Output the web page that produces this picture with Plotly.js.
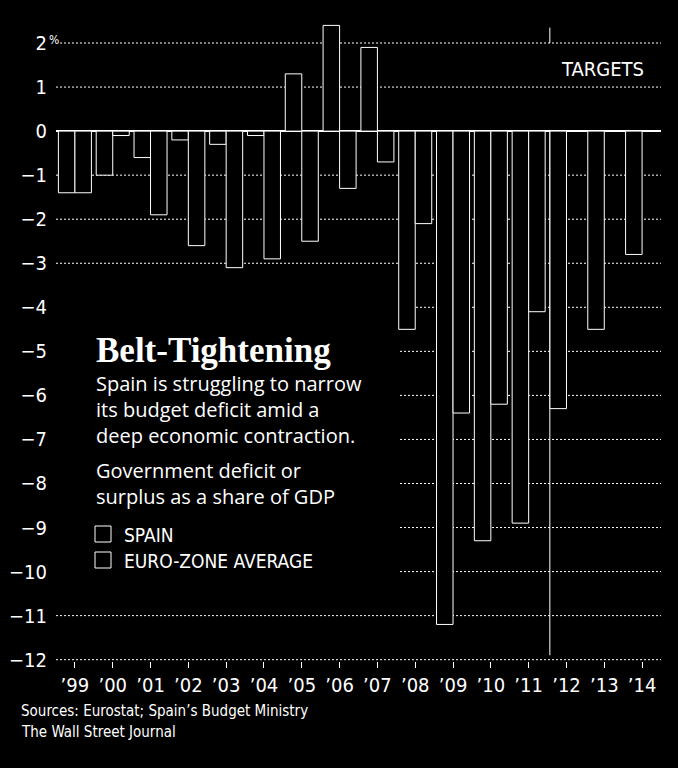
<!DOCTYPE html>
<html>
<head>
<meta charset="utf-8">
<script src="https://cdn.plot.ly/plotly-3.0.1.min.js"></script>
<style>
  html, body { margin: 0; padding: 0; background: #000; }
  #chart { width: 678px; height: 768px; }
</style>
</head>
<body>
<div id="chart"></div>
<script>
// ---- data ----
var years = [1999, 2000, 2001, 2002, 2003, 2004, 2005, 2006, 2007, 2008, 2009, 2010, 2011, 2012, 2013, 2014];
var yearLabels = ['\u201999', '\u201900', '\u201901', '\u201902', '\u201903', '\u201904', '\u201905', '\u201906',
                  '\u201907', '\u201908', '\u201909', '\u201910', '\u201911', '\u201912', '\u201913', '\u201914'];
var spain = [-1.4, -1.0, -0.6, -0.2, -0.3, -0.1, 1.3, 2.4, 1.9, -4.5, -11.2, -9.3, -8.9, -6.3, -4.5, -2.8];
var euroYears = [1999, 2000, 2001, 2002, 2003, 2004, 2005, 2006, 2007, 2008, 2009, 2010, 2011];
var euro = [-1.4, -0.1, -1.9, -2.6, -3.1, -2.9, -2.5, -1.3, -0.7, -2.1, -6.4, -6.2, -4.1];
var yTicks = [2, 1, 0, -1, -2, -3, -4, -5, -6, -7, -8, -9, -10, -11, -12];
var yTickText = ['2', '1', '0', '\u22121', '\u22122', '\u22123', '\u22124', '\u22125', '\u22126',
                 '\u22127', '\u22128', '\u22129', '\u221210', '\u221211', '\u221212'];
var seriesNames = ['SPAIN', 'EURO-ZONE AVERAGE'];

var NARROW = '"Liberation Sans Narrow", "DejaVu Sans Condensed", "Arial Narrow", sans-serif';
var SANS = '"Open Sans", "Noto Sans", sans-serif';
var SERIF = '"Liberation Serif", "DejaVu Serif", serif';
var W = 'rgb(255,255,255)';

// pixel helpers (plot area: x 56..661, y 21..661)
var L = 56, R = 661, T = 21, B = 661;
function px(x) { return (x - L) / (R - L); }
function py(y) { return (B - y) / (B - T); }

var traces = [
  {
    type: 'bar', name: seriesNames[0], x: years, y: spain,
    marker: { color: '#000', line: { color: W, width: 1 } },
    showlegend: false
  },
  {
    type: 'bar', name: seriesNames[1], x: euroYears, y: euro,
    marker: { color: '#000', line: { color: W, width: 1 } },
    showlegend: false
  }
];

// dotted gridlines (the ones behind the text block start further right)
var shapes = [];
yTicks.forEach(function (v) {
  if (v === 0) return;
  var start = (v <= -4 && v >= -10) ? px(400) : (v === 2 ? px(60) : 0);
  shapes.push({ type: 'line', xref: 'paper', yref: 'y', x0: start, x1: 1, y0: v, y1: v,
                line: { color: W, width: 1, dash: '2px,2px' }, layer: 'below' });
});
// separator between actual values and targets
shapes.push({ type: 'line', xref: 'x', yref: 'y', x0: 2011.56, x1: 2011.56, y0: 2.35, y1: 2.0,
              line: { color: W, width: 1 } });
shapes.push({ type: 'line', xref: 'x', yref: 'y', x0: 2011.56, x1: 2011.56, y0: 0, y1: -11.9,
              line: { color: W, width: 1 }, layer: 'below' });
// legend swatches
[534, 560].forEach(function (cy) {
  shapes.push({ type: 'rect', xref: 'paper', yref: 'paper', x0: px(95), x1: px(111), y0: py(cy - 8), y1: py(cy + 8),
                line: { color: W, width: 1 }, fillcolor: '#000' });
});

var layout = {
  width: 678, height: 768,
  paper_bgcolor: '#000', plot_bgcolor: '#000',
  margin: { l: L, r: 678 - R, t: T, b: 768 - B },
  barmode: 'group', bargap: 0.127, bargroupgap: 0,
  font: { family: NARROW, color: W, size: 20 },
  showlegend: false,
  xaxis: {
    range: [1998.5, 2014.5], tickvals: years, ticktext: yearLabels,
    showgrid: false, zeroline: false, showline: false,
    ticks: 'outside', ticklen: 6, tickwidth: 1, tickcolor: W,
    tickfont: { family: NARROW, size: 20, color: W }
  },
  yaxis: {
    range: [-12.03, 2.5], tickvals: yTicks, ticktext: yTickText,
    showgrid: false,
    zeroline: true, zerolinecolor: W, zerolinewidth: 2,
    showline: false, ticks: '', ticklabelstandoff: 8,
    tickfont: { family: NARROW, size: 20, color: W }
  },
  shapes: shapes,
  annotations: [
    { text: '%', xref: 'paper', yref: 'y', x: px(46.5), y: 2.08, xanchor: 'left', yanchor: 'middle',
      showarrow: false, font: { family: NARROW, size: 12, color: W } },
    { text: 'TARGETS', xref: 'paper', yref: 'paper', x: px(646), y: py(68.6), xanchor: 'right', yanchor: 'middle',
      showarrow: false, font: { family: NARROW, size: 20, color: W } },
    { text: '<b>Belt-Tightening</b>', xref: 'paper', yref: 'paper', x: px(94), y: py(350), xanchor: 'left', yanchor: 'middle',
      showarrow: false, font: { family: SERIF, size: 35, color: W } },
    { text: 'Spain is struggling to narrow<br>its budget deficit amid a<br>deep economic contraction.',
      xref: 'paper', yref: 'paper', x: px(94), y: py(409), xanchor: 'left', yanchor: 'middle', align: 'left',
      showarrow: false, font: { family: SANS, size: 20, color: W } },
    { text: 'Government deficit or<br>surplus as a share of GDP',
      xref: 'paper', yref: 'paper', x: px(94), y: py(483), xanchor: 'left', yanchor: 'middle', align: 'left',
      showarrow: false, font: { family: SANS, size: 20, color: W } },
    { text: seriesNames[0], xref: 'paper', yref: 'paper', x: px(122), y: py(534.5), xanchor: 'left', yanchor: 'middle',
      showarrow: false, font: { family: NARROW, size: 19, color: W } },
    { text: seriesNames[1], xref: 'paper', yref: 'paper', x: px(122), y: py(560.5), xanchor: 'left', yanchor: 'middle',
      showarrow: false, font: { family: NARROW, size: 19, color: W } },
    { text: 'Sources: Eurostat; Spain\u2019s Budget Ministry',
      xref: 'paper', yref: 'paper', x: px(19), y: py(710.5), xanchor: 'left', yanchor: 'middle', align: 'left',
      showarrow: false, font: { family: NARROW, size: 15, color: W } },
    { text: 'The Wall Street Journal',
      xref: 'paper', yref: 'paper', x: px(19), y: py(732), xanchor: 'left', yanchor: 'middle', align: 'left',
      showarrow: false, font: { family: NARROW, size: 15, color: W } }
  ]
};

Plotly.newPlot('chart', traces, layout, { displayModeBar: false, staticPlot: true });
</script>
</body>
</html>
